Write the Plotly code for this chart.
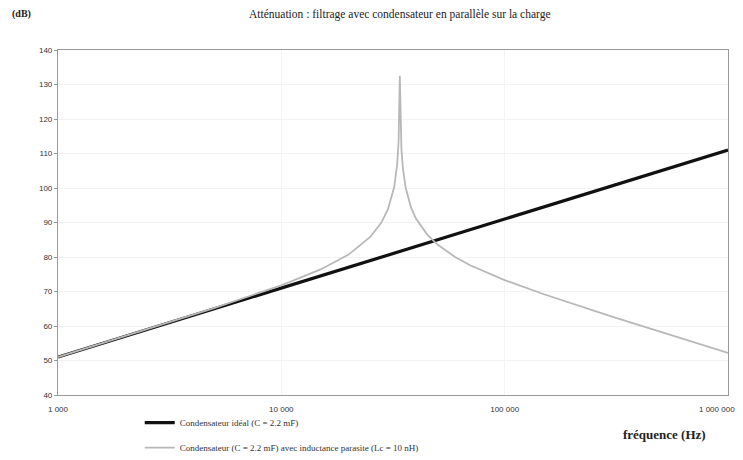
import plotly.graph_objects as go

# Data
freq_ideal = [1000, 10000, 100000, 1000000]
db_ideal = [51.0, 71.0, 91.0, 111.0]

freq_parasite = [1000, 2000, 5000, 10000, 15000, 20000, 25000, 28000, 30000,
                 32000, 33000, 33500, 33930, 34500, 35000, 36000, 38000, 40000,
                 45000, 50000, 60000, 70000, 100000, 150000, 200000, 300000,
                 500000, 700000, 1000000]
db_parasite = [51.0, 57.1, 65.2, 71.8, 76.4, 80.7, 85.8, 89.9, 93.8,
               100.2, 106.7, 113.4, 132.5, 111.2, 105.8, 100.2, 94.5, 91.2,
               86.5, 83.6, 80.0, 77.6, 73.3, 69.2, 66.5, 62.8,
               58.3, 55.3, 52.2]

x_tickvals = [1000, 10000, 100000]
x_ticktext = ["1 000", "10 000", "100 000"]
x_last_tick = 1000000
x_last_text = "1 000 000"
y_tickvals = [40, 50, 60, 70, 80, 90, 100, 110, 120, 130, 140]

name_ideal = "Condensateur idéal (C = 2.2 mF)"
name_parasite = "Condensateur (C = 2.2 mF) avec inductance parasite (Lc = 10 nH)"

fig = go.Figure()
fig.add_trace(go.Scatter(x=freq_ideal, y=db_ideal, mode="lines", name=name_ideal,
                         legendgroup="a",
                         line=dict(color="#111111", width=3.2)))
fig.add_trace(go.Scatter(x=freq_parasite, y=db_parasite, mode="lines", name=name_parasite,
                         legendgroup="b",
                         line=dict(color="#b8b8b8", width=1.8)))

fig.update_layout(
    width=743, height=460,
    margin=dict(l=50, r=23, t=42, b=73, autoexpand=False),
    paper_bgcolor="white", plot_bgcolor="white",
    font=dict(family="Liberation Sans", size=8, color="#333333"),
    showlegend=True,
    legend=dict(x=0.122, y=0.13, xref="paper", yref="container",
                xanchor="left", yanchor="top",
                orientation="v", traceorder="grouped", tracegroupgap=6,
                font=dict(family="Liberation Serif", size=9, color="#333333"),
                bgcolor="rgba(0,0,0,0)", itemwidth=30),
    annotations=[
        dict(text="Atténuation : filtrage avec condensateur en parallèle sur la charge",
             xref="paper", yref="paper", x=0.51, y=1.0, yshift=36,
             xanchor="center", yanchor="middle", showarrow=False,
             font=dict(family="Liberation Serif", size=11.5, color="#222222")),
        dict(text="<b>(dB)</b>", xref="paper", yref="paper", x=0, y=1.0,
             xshift=-48, yshift=36, xanchor="left", yanchor="middle", showarrow=False,
             font=dict(family="Liberation Serif", size=10, color="#222222")),
        dict(text="<b>fréquence (Hz)</b>", xref="paper", yref="paper", x=0.84, y=0,
             yshift=-39, xanchor="left", yanchor="middle", showarrow=False,
             font=dict(family="Liberation Serif", size=13, color="#222222")),
        dict(text=x_last_text, xref="x", yref="paper", x=6, y=0,
             xshift=9, yshift=-14, xanchor="right", yanchor="middle", showarrow=False,
             font=dict(family="Liberation Sans", size=8, color="#333333")),
    ],
)

fig.update_xaxes(type="log", range=[3, 6], tickvals=x_tickvals + [x_last_tick],
                 ticktext=x_ticktext + [""],
                 showgrid=True, gridcolor="#f3f3f3", gridwidth=1,
                 showline=True, linecolor="#999999", linewidth=1.2, mirror=True,
                 ticks="", zeroline=False, ticklabelstandoff=6,
                 ticklabeloverflow="allow", automargin=False)
fig.update_yaxes(range=[40, 140], tickvals=y_tickvals,
                 showgrid=True, gridcolor="#f3f3f3", gridwidth=1,
                 showline=True, linecolor="#999999", linewidth=1.2, mirror=True,
                 ticks="outside", ticklen=3, tickcolor="#999999", zeroline=False,
                 automargin=False)

fig.write_html("out.html")
